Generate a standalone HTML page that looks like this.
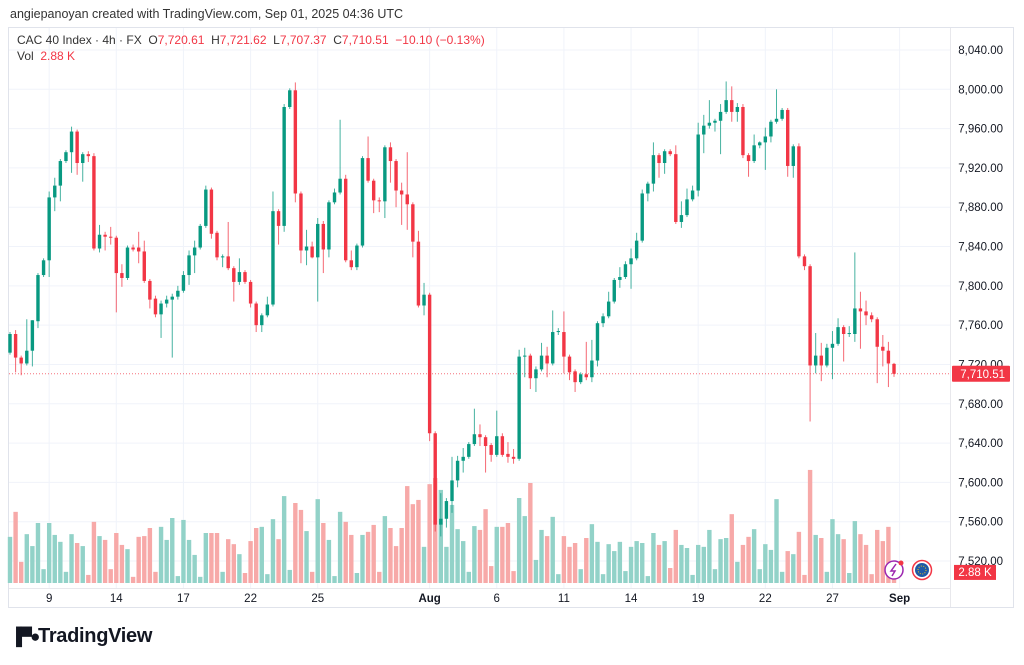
<!DOCTYPE html>
<html><head><meta charset="utf-8">
<style>
html,body{margin:0;padding:0;background:#fff;}
body{width:1024px;height:665px;overflow:hidden;position:relative;font-family:"Liberation Sans",sans-serif;}
.t{position:absolute;white-space:nowrap;}
</style></head>
<body>
<div class="t" style="left:10px;top:7px;font-size:12.5px;color:#333;">angiepanoyan created with TradingView.com, Sep 01, 2025 04:36 UTC</div>
<svg id="chart" width="1024" height="665" style="position:absolute;left:0;top:0;"></svg>
<div class="t" style="left:17px;top:33px;font-size:12px;color:#333;">CAC 40 Index · 4h · FX&nbsp;&nbsp;O<span style="color:#f23645">7,720.61</span>&nbsp;&nbsp;H<span style="color:#f23645">7,721.62</span>&nbsp;&nbsp;L<span style="color:#f23645">7,707.37</span>&nbsp;&nbsp;C<span style="color:#f23645">7,710.51</span>&nbsp;&nbsp;<span style="color:#f23645">−10.10 (−0.13%)</span></div>
<div class="t" style="left:17px;top:49px;font-size:12px;color:#333;">Vol&nbsp;&nbsp;<span style="color:#f23645">2.88 K</span></div>
<div class="t" style="left:10px;top:625px;font-size:20px;font-weight:bold;color:#131722;letter-spacing:-0.3px;"><span style="display:inline-block;width:28px;font-size:17px;letter-spacing:-2px;">▐▀●</span>TradingView</div>
<script>
const opens=[7732,7751,7727,7721,7734,7764,7811,7826,7890,7902,7927,7936,7957,7925,7934,7932,7838,7852,7850,7849,7813,7808,7839,7839,7835,7805,7787,7771,7782,7786,7789,7795,7811,7831,7839,7861,7898,7854,7829,7830,7818,7804,7814,7804,7782,7760,7770,7781,7876,7861,7982,7999,7894,7836,7840,7829,7863,7837,7885,7895,7909,7826,7819,7841,7930,7907,7887,7886,7941,7927,7897,7893,7883,7845,7780,7791,7650,7557,7563,7581,7602,7622,7626,7639,7649,7646,7638,7628,7647,7629,7626,7624,7728,7729,7706,7715,7729,7721,7753,7753,7728,7713,7702,7710,7707,7724,7762,7769,7784,7806,7809,7822,7828,7846,7894,7904,7933,7925,7937,7934,7865,7872,7888,7897,7954,7963,7966,7968,7977,7989,7977,7982,7933,7927,7943,7946,7952,7967,7970,7979,7922,7942,7830,7820,7719,7729,7719,7737,7741,7758,7751,7751,7777,7774,7770,7766,7738,7734,7720.61];
const highs=[7753,7755,7729,7766,7765,7813,7828,7896,7910,7929,7938,7962,7959,7936,7937,7935,7862,7855,7860,7851,7822,7841,7842,7855,7846,7807,7790,7785,7790,7792,7800,7815,7836,7846,7863,7902,7900,7856,7832,7865,7820,7828,7816,7806,7784,7772,7789,7896,7878,7985,8001,8007,7896,7857,7845,7869,7866,7887,7899,7969,7913,7836,7843,7932,7952,7909,7890,7943,7946,7929,7905,7936,7885,7856,7803,7793,7652,7589,7584,7626,7627,7635,7641,7675,7659,7648,7640,7673,7650,7641,7634,7735,7737,7731,7718,7742,7738,7775,7757,7774,7730,7715,7712,7743,7745,7764,7772,7794,7808,7819,7825,7838,7854,7898,7906,7946,7935,7939,7939,7943,7886,7899,7902,7966,7974,7989,7970,7985,8008,8003,7986,7985,7935,7954,7947,7961,7969,8000,7981,7981,7944,7945,7832,7822,7752,7742,7741,7754,7767,7760,7759,7834,7794,7785,7773,7768,7750,7743,7721.62];
const lows=[7730,7712,7709,7719,7718,7757,7809,7809,7876,7886,7925,7915,7913,7906,7926,7836,7834,7836,7842,7773,7799,7806,7835,7823,7803,7777,7768,7747,7778,7727,7786,7793,7801,7813,7837,7859,7848,7826,7819,7816,7784,7801,7802,7778,7753,7753,7768,7779,7842,7855,7980,7885,7823,7821,7828,7784,7813,7829,7883,7893,7824,7816,7816,7839,7905,7874,7875,7869,7905,7880,7862,7857,7829,7778,7770,7642,7550,7545,7554,7569,7595,7610,7624,7637,7637,7610,7621,7626,7626,7620,7619,7622,7707,7695,7692,7713,7707,7719,7750,7711,7704,7692,7700,7704,7702,7718,7758,7767,7782,7798,7807,7797,7826,7844,7886,7896,7910,7914,7932,7863,7859,7870,7886,7891,7935,7960,7957,7934,7975,7967,7967,7930,7911,7925,7940,7918,7946,7965,7968,7911,7910,7828,7816,7662,7711,7703,7717,7705,7739,7723,7748,7743,7736,7760,7763,7701,7718,7697,7707.37];
const closes=[7751,7727,7721,7734,7765,7811,7826,7890,7902,7927,7936,7957,7925,7934,7932,7838,7852,7850,7849,7813,7808,7839,7837,7835,7805,7786,7771,7782,7786,7789,7795,7811,7831,7839,7861,7898,7853,7829,7830,7818,7804,7814,7804,7782,7760,7770,7781,7876,7861,7982,7999,7894,7836,7840,7829,7863,7837,7885,7895,7909,7826,7819,7841,7930,7907,7887,7886,7941,7927,7897,7893,7883,7845,7780,7791,7650,7557,7563,7581,7602,7622,7626,7639,7649,7646,7637,7628,7647,7628,7626,7624,7728,7729,7706,7715,7729,7721,7753,7754,7728,7712,7702,7710,7707,7724,7762,7769,7784,7806,7809,7822,7828,7846,7894,7904,7933,7925,7937,7934,7865,7872,7888,7897,7954,7963,7966,7968,7977,7989,7977,7982,7933,7927,7943,7946,7952,7967,7970,7979,7922,7942,7830,7820,7719,7729,7719,7737,7741,7758,7751,7752,7777,7774,7770,7766,7738,7734,7721,7710.51];
const volumes=[12.0,18.5,5.5,12.7,9.6,15.6,3.6,15.6,12.5,10.7,2.9,12.7,10.4,9.6,2.1,15.9,12.2,11.2,3.6,13.0,9.9,8.8,1.6,12.0,12.2,14.3,2.9,14.6,11.2,16.9,1.8,16.4,11.2,7.3,1.6,13.0,13.0,13.0,2.9,11.4,10.1,7.5,2.6,10.9,14.3,14.6,2.3,16.6,11.4,22.6,3.4,20.8,19.0,13.5,2.9,21.8,15.6,11.2,1.8,18.5,15.9,12.5,2.6,12.5,13.3,15.1,2.9,17.4,14.3,9.6,14.3,25.2,20.5,21.6,9.4,25.7,27.3,24.2,9.4,20.3,14.0,10.9,2.9,14.8,13.8,19.2,4.4,14.6,14.6,15.6,3.1,22.1,17.4,26.0,6.0,13.8,12.2,17.2,2.3,12.2,9.4,10.4,3.6,11.7,15.3,10.7,2.3,10.1,8.3,10.7,3.1,9.4,10.9,10.4,1.8,13.0,9.9,10.9,3.9,13.8,9.9,9.1,2.1,9.9,9.4,13.8,3.6,11.4,11.7,17.9,5.5,9.9,12.0,14.0,3.6,10.1,8.6,21.8,2.9,8.3,7.5,13.3,2.1,29.4,12.5,11.7,2.9,16.6,12.7,11.4,2.6,16.1,12.7,9.9,2.3,13.8,10.9,14.6,2.88];
const priceTicks=[8040,8000,7960,7920,7880,7840,7800,7760,7720,7680,7640,7600,7560,7520];
const dateLabels=["9","14","17","22","25","Aug","6","11","14","19","22","27","Sep"];
const dateIndex=[7,19,31,43,55,75,87,99,111,123,135,147,159];
const lastPrice=7710.51;

const svg=document.getElementById('chart');
const NS='http://www.w3.org/2000/svg';
function yP(p){return 50+(8040-p)*0.9827;}
function xI(i){return 10+i*5.595;}
function yV(v){return 583-v*3.846;}
function mk(tag,attrs,parent){const e=document.createElementNS(NS,tag);for(const k in attrs)e.setAttribute(k,attrs[k]);(parent||svg).appendChild(e);return e;}

// frame
const frame=mk('rect',{x:8.5,y:27.5,width:1005,height:580,fill:'none',stroke:'#e0e3eb'});


const grid=mk('g',{});


priceTicks.forEach(p=>{
  mk('line',{x1:9,x2:950,y1:yP(p),y2:yP(p),stroke:'#f0f3fa','stroke-width':1},grid);
});
dateIndex.forEach(i=>{
  mk('line',{x1:xI(i),x2:xI(i),y1:28,y2:588,stroke:'#f0f3fa','stroke-width':1},grid);
});
mk('line',{x1:950.5,x2:950.5,y1:28,y2:607,stroke:'#e8e8ec'});
mk('line',{x1:9,x2:950,y1:588.5,y2:588.5,stroke:'#e8e8ec'});

// volume
const vg=mk('g',{});


volumes.forEach((v,i)=>{
  const up=closes[i]>=opens[i];
  const r=mk('rect',{x:xI(i)-2.2,y:yV(v),width:4.4,height:583-yV(v),fill:up?'#92d2c8':'#f7a9a8'},vg);
  
  
});

// last price line
const pl=mk('line',{x1:9,x2:950,y1:yP(lastPrice),y2:yP(lastPrice),stroke:'#f23645','stroke-width':1,'stroke-dasharray':'1 2',opacity:0.7});



// candles
const cg=mk('g',{});


opens.forEach((o,i)=>{
  const c=closes[i],up=c>=o,col=up?'#089981':'#f23645';
  const x=xI(i);
  const g=mk('g',{},cg);
  
  
  mk('line',{x1:x,x2:x,y1:yP(highs[i]),y2:yP(lows[i]),stroke:col,'stroke-width':1,opacity:0.75},g);
  const top=yP(Math.max(o,c)),bot=yP(Math.min(o,c));
  mk('rect',{x:x-1.7,y:top,width:3.4,height:Math.max(1,bot-top),fill:col},g);
});

// axis labels
const ax=mk('g',{});


priceTicks.forEach(p=>{
  const t=mk('text',{x:1003,y:yP(p)+4,'text-anchor':'end','font-size':11.5,fill:'#131722','font-family':'Liberation Sans, sans-serif'},ax);
  t.textContent=p.toLocaleString('en-US',{minimumFractionDigits:2});
  
  
});
const dx=mk('g',{});


dateLabels.forEach((d,k)=>{
  const t=mk('text',{x:xI(dateIndex[k]),y:602,'text-anchor':'middle','font-size':11.5,fill:'#131722','font-weight':(d==='Aug'||d==='Sep')?'bold':'normal','font-family':'Liberation Sans, sans-serif'},dx);
  t.textContent=d;
  
  
});

// price label
const lb=mk('g',{});


mk('rect',{x:952,y:yP(lastPrice)-8,width:58,height:16,fill:'#f23645',rx:1},lb);
const lt=mk('text',{x:1005,y:yP(lastPrice)+4,'text-anchor':'end','font-size':11.5,fill:'#fff','font-family':'Liberation Sans, sans-serif'},lb);
lt.textContent=lastPrice.toLocaleString('en-US',{minimumFractionDigits:2});
const vl=mk('g',{});


mk('rect',{x:954,y:yV(volumes[volumes.length-1])-7,width:42,height:15,fill:'#f23645'},vl);
const vt=mk('text',{x:975,y:yV(volumes[volumes.length-1])+4,'text-anchor':'middle','font-size':11.5,fill:'#fff','font-family':'Liberation Sans, sans-serif'},vl);
vt.textContent='2.88 K';

// icons
const ic1=mk('g',{});


mk('circle',{cx:894,cy:570,r:9,fill:'#fff',stroke:'#9c27b0','stroke-width':1.5},ic1);
mk('path',{d:'M896 564 L891 571 L895 571 L892 576',stroke:'#9c27b0',fill:'none','stroke-width':1.5},ic1);
mk('circle',{cx:901,cy:563,r:2.5,fill:'#f23645'},ic1);
const ic2=mk('g',{});


mk('circle',{cx:922,cy:570,r:9.5,fill:'#fff',stroke:'#f23645','stroke-width':1.5},ic2);
mk('circle',{cx:922,cy:570,r:7,fill:'#1f5aa6'},ic2);
mk('circle',{cx:922,cy:570,r:4,fill:'none',stroke:'#f5c518','stroke-width':1,'stroke-dasharray':'1 1.5'},ic2);
</script>
</body></html>
